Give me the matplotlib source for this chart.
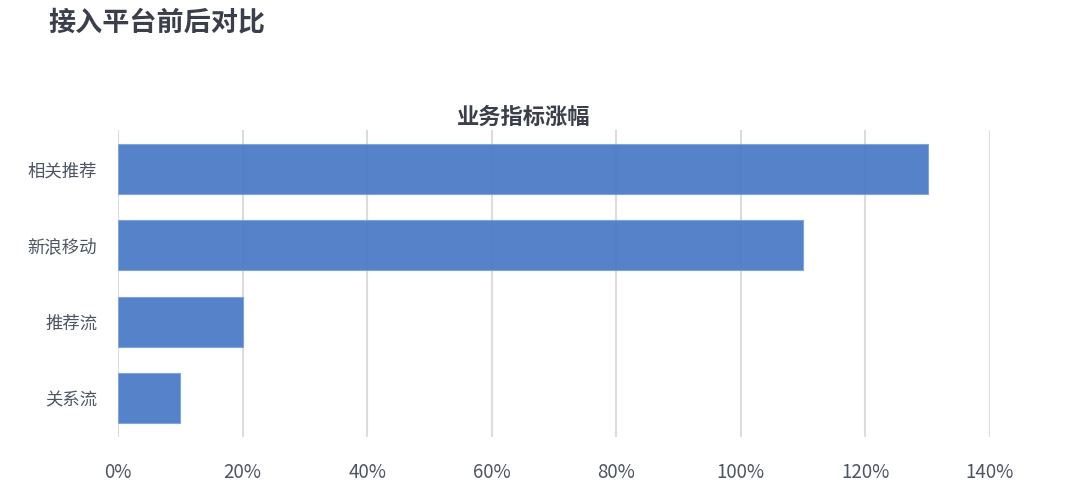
import matplotlib.pyplot as plt
from matplotlib.ticker import FuncFormatter

plt.rcParams['font.family'] = ['Noto Sans CJK SC', 'DejaVu Sans']

# data
categories = ['相关推荐', '新浪移动', '推荐流', '关系流']
growth = [130, 110, 20, 10]  # percent
x_ticks = [0, 20, 40, 60, 80, 100, 120, 140]

fig = plt.figure(figsize=(10.8, 4.93), dpi=100)
ax = fig.add_axes([118 / 1080, 1 - 437 / 493, 872 / 1080, 307 / 493])

ax.barh(range(len(categories)), growth, height=0.655, color='#4f7ec7',
        edgecolor='#7fa2d9', linewidth=0.8, zorder=2, alpha=0.97)

ax.set_ylim(3.51, -0.51)
ax.set_xlim(0, 140)
ax.set_xticks(x_ticks)
ax.xaxis.set_major_formatter(FuncFormatter(lambda v, p: f'{v:.0f}%'))
ax.set_yticks(range(len(categories)))
ax.set_yticklabels(categories)

ax.grid(axis='x', color='#dcdcdc', linewidth=1.5, zorder=0)
ax.set_axisbelow(True)
for s in ax.spines.values():
    s.set_visible(False)
ax.tick_params(axis='both', length=0, colors='#4d5562')
ax.tick_params(axis='x', labelsize=13.5, pad=18)
ax.tick_params(axis='y', labelsize=12.5, pad=15)

fig.text(48 / 1080, 1 - 22 / 493, '接入平台前后对比', fontsize=19.5,
         fontweight='bold', color='#3a3f4b', va='center', ha='left')
fig.text(524 / 1080, 1 - 117 / 493, '业务指标涨幅', fontsize=16,
         fontweight='bold', color='#3a3f4b', va='center', ha='center')

fig.savefig('out.png', dpi=100, facecolor='white')
